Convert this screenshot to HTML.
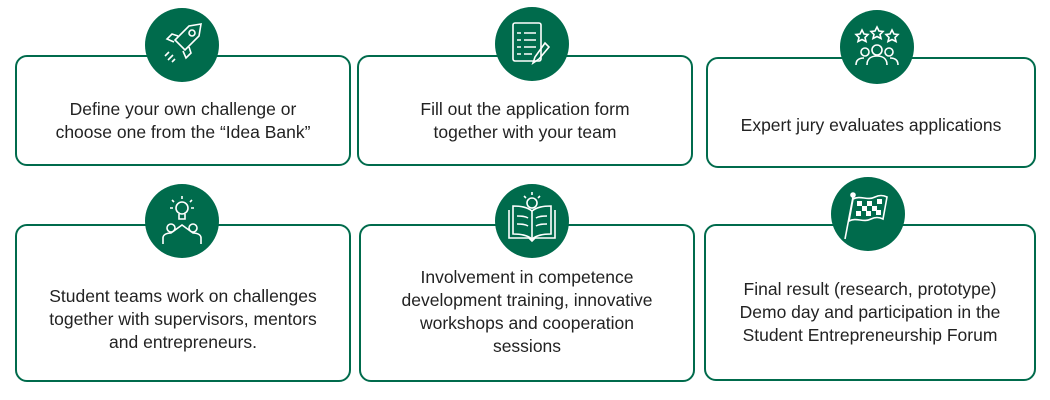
<!DOCTYPE html>
<html><head><style>
body{margin:0;width:1050px;height:400px;background:#fff;position:relative;overflow:hidden;font-family:"Liberation Sans",sans-serif;}
.b{position:absolute;border:2px solid #006b4c;border-radius:12px;box-sizing:border-box;display:flex;align-items:center;justify-content:center;text-align:center;font-size:17.5px;line-height:23px;color:#222;white-space:nowrap;}
.c{position:absolute;width:74px;height:74px;border-radius:50%;background:#006b4c;}
.c svg{width:74px;height:74px;}
</style></head><body>
<div class="b" style="left:15px;top:55px;width:336px;height:111px;padding-top:20px">Define your own challenge or<br>choose one from the “Idea Bank”</div>
<div class="b" style="left:357px;top:55px;width:336px;height:111px;padding-top:20px">Fill out the application form<br>together with your team</div>
<div class="b" style="left:706px;top:57px;width:330px;height:111px;padding-top:26px">Expert jury evaluates applications</div>
<div class="b" style="left:15px;top:224px;width:336px;height:158px;padding-top:32px">Student teams work on challenges<br>together with supervisors, mentors<br>and entrepreneurs.</div>
<div class="b" style="left:359px;top:224px;width:336px;height:158px;padding-top:18px">Involvement in competence<br>development training, innovative<br>workshops and cooperation<br>sessions</div>
<div class="b" style="left:704px;top:224px;width:332px;height:157px;padding-top:20px">Final result (research, prototype)<br>Demo day and participation in the<br>Student Entrepreneurship Forum</div>

<div class="c" style="left:145px;top:8px"><svg viewBox="0 0 74 74" fill="none" stroke="#fff" stroke-width="1.6"><path d="M56 16 L44 18 L30 32 L40 42 L54 28 Z"/><circle cx="47" cy="25" r="3"/><path d="M33 28 L27 26 L22 31 L29 34 M44 39 L46 45 L41 50 L38 43"/><path d="M24 44 L20 48 M28 47 L23 52 M30 51 L27 54"/></svg></div>
<div class="c" style="left:495px;top:7px"><svg viewBox="0 0 74 74" fill="none" stroke="#fff" stroke-width="1.6"><rect x="18" y="16" width="28" height="38" rx="2"/><path d="M22 26h4M29 26h12M22 33h4M29 33h12M22 40h4M29 40h12M22 47h4M29 47h8"/><path d="M50 36 L40 50 L38 56 L44 52 L54 40 Z"/></svg></div>
<div class="c" style="left:840px;top:10px"><svg viewBox="0 0 74 74" fill="none" stroke="#fff" stroke-width="1.6"><path d="M22 20l2 4 4 .5-3 3 1 4-4-2-4 2 1-4-3-3 4-.5z M37 17l2 4 4 .5-3 3 1 4-4-2-4 2 1-4-3-3 4-.5z M52 20l2 4 4 .5-3 3 1 4-4-2-4 2 1-4-3-3 4-.5z"/><circle cx="37" cy="40" r="5"/><path d="M27 55c0-6 4-9 10-9s10 3 10 9"/><circle cx="25" cy="42" r="4"/><circle cx="49" cy="42" r="4"/><path d="M16 55c0-5 3-7 8-7M58 55c0-5-3-7-8-7"/></svg></div>
<div class="c" style="left:145px;top:184px"><svg viewBox="0 0 74 74" fill="none" stroke="#fff" stroke-width="1.6"><circle cx="37" cy="24" r="6"/><path d="M34 30v5h6v-5M37 12v3M27 16l2 2M47 16l-2 2M25 24h3M46 24h3"/><circle cx="26" cy="44" r="4"/><circle cx="48" cy="44" r="4"/><path d="M18 60v-6c0-3 3-5 8-5l11 -8 11 8c5 0 8 2 8 5v6"/></svg></div>
<div class="c" style="left:495px;top:184px"><svg viewBox="0 0 74 74" fill="none" stroke="#fff" stroke-width="1.6"><path d="M14 26v28h20l3 3 3-3h20V26"/><path d="M18 22v28c8 0 14 1 19 5 5-4 11-5 19-5V22c-8 0-14 1-19 5-5-4-11-5-19-5z"/><path d="M37 27v28M22 32c4 0 8 0 11 2M22 40c4 0 8 0 11 2M41 34c3-2 7-2 11-2M41 42c3-2 7-2 11-2"/><circle cx="37" cy="19" r="5" fill="#006b4c"/><path d="M37 8v3M29 12l2 2M45 12l-2 2"/></svg></div>
<div class="c" style="left:831px;top:177px"><svg viewBox="0 0 74 74" fill="none" stroke="#fff" stroke-width="1.6"><path d="M22 20 L14 62"/><circle cx="22" cy="18" r="2" fill="#fff"/><path d="M22 22c8-4 14 2 22-2 4-2 8-2 12 0l-4 22c-4-2-8-2-12 0-8 4-14-2-22 2z"/><path d="M26 24h5v5h-5zM36 24h5v5h-5zM46 22h5v5h-5zM31 29h5v5h-5zM41 29h5v5h-5zM25 34h5v5h-5zM35 34h5v5h-5zM45 33h5v5h-5z" fill="#fff" stroke="none"/></svg></div>
</body></html>
